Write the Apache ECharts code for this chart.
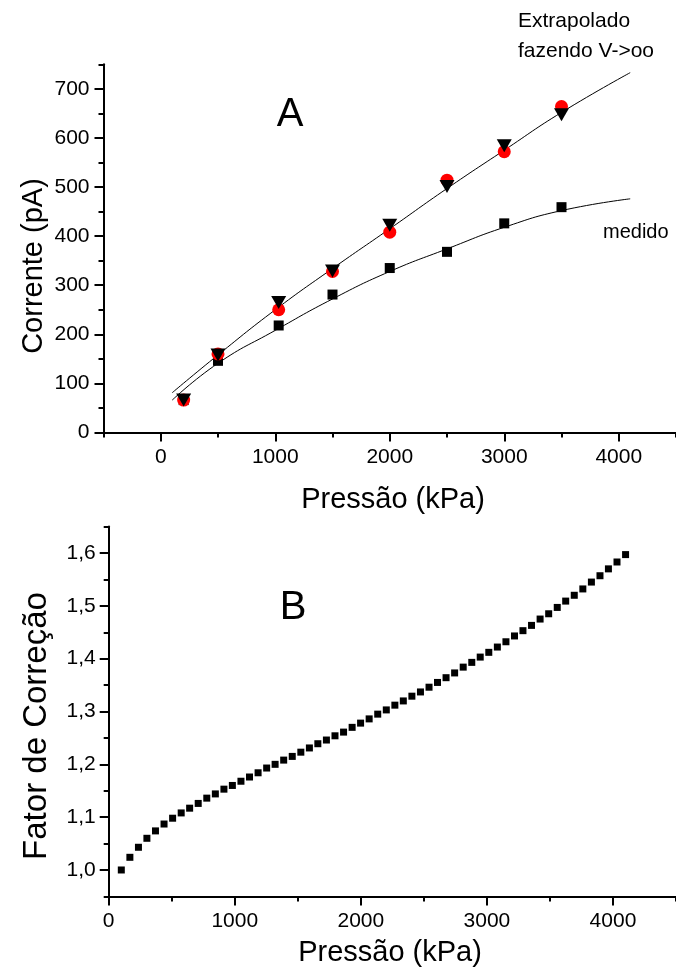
<!DOCTYPE html>
<html>
<head>
<meta charset="utf-8">
<script src="https://cdn.jsdelivr.net/npm/echarts@6/dist/echarts.min.js"></script>
<style>
html, body { margin: 0; padding: 0; background: #fff; }
#chart { width: 676px; height: 973px; }
</style>
</head>
<body>
<div id="chart"></div>
<script>
// Painel A: corrente em função da pressão
const pressaoA = [200, 500, 1030, 1500, 2000, 2500, 3000, 3500];
const extrapCirculos = [66, 160, 250, 328, 408, 514, 572, 664];
const extrapTriangulos = [66, 158, 265, 329, 422, 501, 584, 647];
const medido = [66, 146, 218, 281, 335, 368, 426, 459];

// Curvas ajustadas (pontos lidos ao longo das curvas)
const ajustePressao = [100, 500, 1000, 1500, 2000, 2500, 3000, 3500, 4100];
const ajusteExtrap = [81, 158, 250, 334, 415, 497, 575, 652, 733];
const ajusteMedido = [66, 141, 208, 272, 328, 374, 418, 452, 476];

// Painel B: fator de correção
const pressaoB = [100, 168, 236, 303, 371, 439, 507, 575, 642, 710,
  778, 846, 914, 981, 1049, 1117, 1185, 1253, 1320, 1388,
  1456, 1524, 1592, 1659, 1727, 1795, 1863, 1931, 1998, 2066,
  2134, 2202, 2270, 2337, 2405, 2473, 2541, 2608, 2676, 2744,
  2812, 2880, 2947, 3015, 3083, 3151, 3219, 3286, 3354, 3422,
  3490, 3558, 3625, 3693, 3761, 3829, 3897, 3964, 4032, 4100];
const fatorCorrecao = [1.000, 1.024, 1.043, 1.060, 1.074, 1.087, 1.098, 1.108, 1.117, 1.126,
  1.136, 1.144, 1.153, 1.160, 1.168, 1.176, 1.184, 1.193, 1.200, 1.208,
  1.215, 1.223, 1.231, 1.239, 1.246, 1.254, 1.261, 1.270, 1.278, 1.286,
  1.295, 1.303, 1.312, 1.320, 1.329, 1.337, 1.346, 1.355, 1.364, 1.373,
  1.384, 1.393, 1.403, 1.412, 1.422, 1.432, 1.443, 1.453, 1.463, 1.475,
  1.485, 1.497, 1.509, 1.520, 1.532, 1.545, 1.557, 1.570, 1.583, 1.597];

// Marcas dos eixos
const ticksXA = [0, 1000, 2000, 3000, 4000];
const ticksXAmenor = [-500, 500, 1500, 2500, 3500, 4500];
const ticksYA = [0, 100, 200, 300, 400, 500, 600, 700];
const ticksYAmenor = [50, 150, 250, 350, 450, 550, 650, 750];
const ticksXB = [0, 1000, 2000, 3000, 4000];
const ticksXBmenor = [500, 1500, 2500, 3500, 4500];
const ticksYB = [1.0, 1.1, 1.2, 1.3, 1.4, 1.5, 1.6];
const ticksYBmenor = [0.95, 1.05, 1.15, 1.25, 1.35, 1.45, 1.55, 1.65];

const FONTE = '"Liberation Sans", Arial, sans-serif';
const zip = (xs, ys) => xs.map((x, i) => [x, ys[i]]);

function eixo(grid, min, max, ticks, comLabel, tickLen, margem, formatter) {
  return {
    type: 'value', gridIndex: grid, min: min, max: max,
    axisLine: { show: comLabel, onZero: false, lineStyle: { color: '#000', width: 2 } },
    axisTick: { show: true, customValues: ticks, length: tickLen, lineStyle: { color: '#000', width: 2 } },
    axisLabel: comLabel ? {
      show: true, customValues: ticks, color: '#000', fontSize: 21, fontFamily: FONTE,
      margin: margem, formatter: formatter
    } : { show: false },
    splitLine: { show: false }
  };
}

const inteiro = v => String(Math.round(v));
const virgula = v => Number(v).toFixed(1).replace('.', ',');

const option = {
  animation: false,
  backgroundColor: '#fff',
  grid: [
    { left: 103.5, top: 64.3, width: 576, height: 368.2 },
    { left: 108.7, top: 526.6, width: 576.3, height: 369.8 }
  ],
  xAxis: [
    Object.assign(eixo(0, -500, 4500, ticksXA, true, 9, 14, inteiro), { position: 'bottom' }),
    Object.assign(eixo(0, -500, 4500, ticksXAmenor, false, 5, 14), { position: 'bottom' }),
    Object.assign(eixo(1, 0, 4500, ticksXB, true, 9, 14, inteiro), { position: 'bottom' }),
    Object.assign(eixo(1, 0, 4500, ticksXBmenor, false, 5, 14), { position: 'bottom' })
  ],
  yAxis: [
    Object.assign(eixo(0, 0, 750, ticksYA, true, 9, 14, inteiro), { position: 'left' }),
    Object.assign(eixo(0, 0, 750, ticksYAmenor, false, 5, 14), { position: 'left' }),
    Object.assign(eixo(1, 0.95, 1.65, ticksYB, true, 9, 13, virgula), { position: 'left' }),
    Object.assign(eixo(1, 0.95, 1.65, ticksYBmenor, false, 5, 13), { position: 'left' })
  ],
  series: [
    {
      type: 'line', xAxisIndex: 0, yAxisIndex: 0, data: zip(ajustePressao, ajusteMedido),
      smooth: true, showSymbol: false, lineStyle: { color: '#000', width: 1 }, z: 1
    },
    {
      type: 'line', xAxisIndex: 0, yAxisIndex: 0, data: zip(ajustePressao, ajusteExtrap),
      smooth: true, showSymbol: false, lineStyle: { color: '#000', width: 1 }, z: 1
    },
    {
      type: 'scatter', xAxisIndex: 0, yAxisIndex: 0, data: zip(pressaoA, medido),
      symbol: 'rect', symbolSize: 10, itemStyle: { color: '#000', opacity: 1 }, z: 2
    },
    {
      type: 'scatter', xAxisIndex: 0, yAxisIndex: 0, data: zip(pressaoA, extrapCirculos),
      symbol: 'circle', symbolSize: 13, itemStyle: { color: '#ff0000', opacity: 1 }, z: 3
    },
    {
      type: 'scatter', xAxisIndex: 0, yAxisIndex: 0, data: zip(pressaoA, extrapTriangulos),
      symbol: 'triangle', symbolRotate: 180, symbolSize: [15, 13], itemStyle: { color: '#000', opacity: 1 }, z: 4
    },
    {
      type: 'scatter', xAxisIndex: 2, yAxisIndex: 2, data: zip(pressaoB, fatorCorrecao),
      symbol: 'rect', symbolSize: 7, itemStyle: { color: '#000', opacity: 1 }, z: 2
    }
  ],
  graphic: [
    { type: 'text', x: 34, y: 266, rotation: Math.PI / 2,
      style: { text: 'Corrente (pA)', font: '29px ' + FONTE, fill: '#000', textAlign: 'center', textVerticalAlign: 'middle' } },
    { type: 'text', x: 393, y: 500,
      style: { text: 'Pressão (kPa)', font: '29px ' + FONTE, fill: '#000', textAlign: 'center', textVerticalAlign: 'middle' } },
    { type: 'text', x: 290, y: 115,
      style: { text: 'A', font: '40px ' + FONTE, fill: '#000', textAlign: 'center', textVerticalAlign: 'middle' } },
    { type: 'text', x: 518, y: 21,
      style: { text: 'Extrapolado', font: '21px ' + FONTE, fill: '#000', textAlign: 'left', textVerticalAlign: 'middle' } },
    { type: 'text', x: 518, y: 51,
      style: { text: 'fazendo V->oo', font: '21px ' + FONTE, fill: '#000', textAlign: 'left', textVerticalAlign: 'middle' } },
    { type: 'text', x: 603, y: 232,
      style: { text: 'medido', font: '20px ' + FONTE, fill: '#000', textAlign: 'left', textVerticalAlign: 'middle' } },
    { type: 'text', x: 37, y: 726, rotation: Math.PI / 2,
      style: { text: 'Fator de Correção', font: '33px ' + FONTE, fill: '#000', textAlign: 'center', textVerticalAlign: 'middle' } },
    { type: 'text', x: 293, y: 608,
      style: { text: 'B', font: '40px ' + FONTE, fill: '#000', textAlign: 'center', textVerticalAlign: 'middle' } },
    { type: 'text', x: 390, y: 953,
      style: { text: 'Pressão (kPa)', font: '29px ' + FONTE, fill: '#000', textAlign: 'center', textVerticalAlign: 'middle' } }
  ]
};

const chart = echarts.init(document.getElementById('chart'), null, { renderer: 'canvas' });
chart.setOption(option);
</script>
</body>
</html>
